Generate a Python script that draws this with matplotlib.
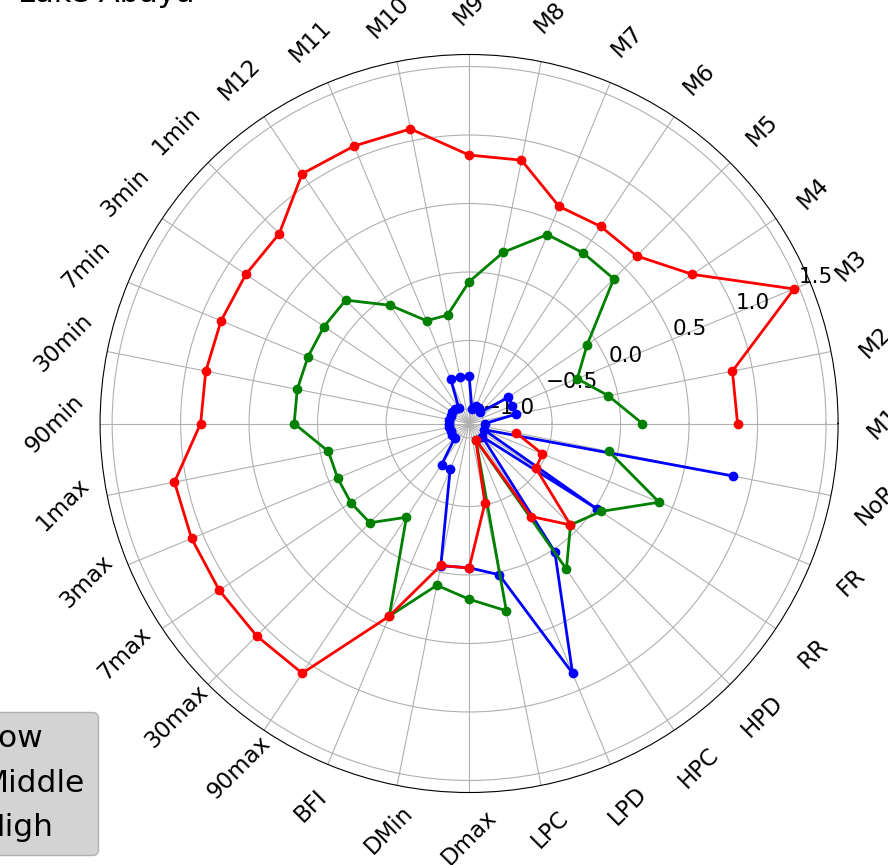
import numpy as np
import matplotlib
matplotlib.use("Agg")
import matplotlib.pyplot as plt

# Flow-regime indices for Lake Abaya, one spoke per index
categories = ["M1", "M2", "M3", "M4", "M5", "M6", "M7", "M8", "M9", "M10", "M11", "M12",
              "1min", "3min", "7min", "30min", "90min",
              "1max", "3max", "7max", "30max", "90max",
              "BFI", "DMin", "Dmax", "LPC", "LPD", "HPC", "HPD", "RR", "FR", "NoR"]

low = [-0.99, -0.757, -0.763, -0.763, -0.99, -0.97, -0.97, -1.0, -0.757, -0.757, -0.757, -0.97,
       -0.96, -0.96, -0.96, -0.96, -0.96,
       -0.96, -0.96, -0.96, -0.96, -0.745,
       -0.745, -0.047, -0.053, 0.02, 0.868, 0.02, -0.97, 0.016, -0.99, 0.857]

middle = [0.159, -0.069, -0.251, -0.069, 0.388, 0.392, 0.387, 0.168, -0.071, -0.299, -0.294, -0.068,
          0.168, 0.168, 0.167, 0.173, 0.171,
          -0.059, -0.067, -0.067, -0.081, -0.283,
          0.416, 0.098, 0.177, 0.288, -0.978, 0.173, -0.059, 0.05, 0.396, -0.067]

high = [0.854, 0.854, 1.461, 0.854, 0.624, 0.624, 0.61, 0.854, 0.854, 1.087, 1.087, 1.087,
        0.854, 0.854, 0.854, 0.854, 0.854,
        1.087, 1.087, 1.087, 1.087, 1.087,
        0.416, -0.05, -0.05, -0.513, -0.978, -0.289, -0.059, -0.52, -0.526, -0.756]

series_names = ["Low", "Middle", "High"]
series_colors = ["blue", "green", "red"]

angles = np.linspace(0, 2 * np.pi, len(categories), endpoint=False)

fig = plt.figure(figsize=(8.88, 8.65), dpi=100)
ax = fig.add_axes([0.1127, 0.0838, 0.8311, 0.8532], projection="polar")

for values, name, color in zip([low, middle, high], series_names, series_colors):
    ax.plot(angles, values, color=color, linewidth=2, marker="o", markersize=6, label=name)

ax.set_ylim(-1.106, 1.588)
ax.set_xticks(angles)
ax.set_xticklabels(categories, fontsize=16.5)
ax.tick_params(axis="x", labelrotation=45, pad=22)
ax.set_yticks([-1.0, -0.5, 0.0, 0.5, 1.0, 1.5])
ax.set_yticklabels(["\u22121.0", "\u22120.5", "0.0", "0.5", "1.0", "1.5"], fontsize=15.5)
ax.grid(True, color="#b0b0b0", linewidth=0.8)

fig.text(18 / 888, 1 - 2 / 865, "Lake Abaya", fontsize=22, ha="left", va="baseline")

fig.legend(loc="lower right", bbox_to_anchor=(98 / 888, 10 / 865), fontsize=22.5,
           borderaxespad=0, facecolor="lightgray", edgecolor="#b0b0b0", framealpha=1.0)

fig.savefig("out.png", dpi=100)
